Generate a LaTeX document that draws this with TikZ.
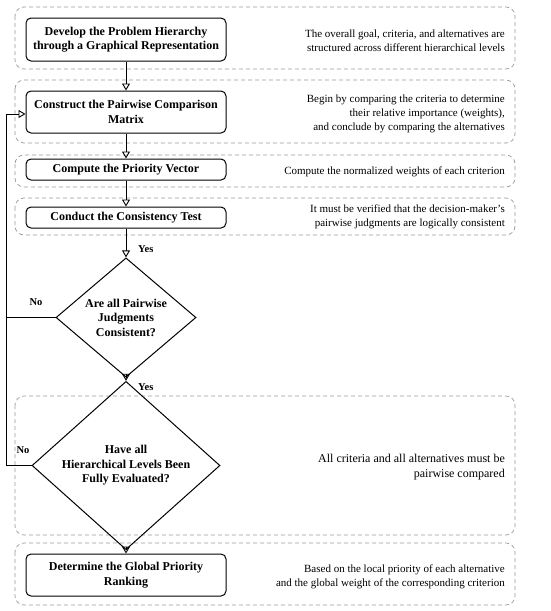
\documentclass[tikz,border=0pt]{standalone}
\usepackage{fontspec}
\setmainfont{Liberation Serif}
\usetikzlibrary{arrows.meta,shapes.geometric}
\begin{document}
\begin{tikzpicture}[x=1pt,y=-1pt,
  stepbox/.style={draw, line width=1pt, rounded corners=5pt, minimum width=200pt, inner sep=2pt, align=center, font=\fontsize{12}{14.5}\selectfont\bfseries},
  decision/.style={draw, line width=1pt, diamond, inner sep=0pt, align=center, font=\fontsize{12}{14.5}\selectfont\bfseries},
  group/.style={draw=gray!80, dashed, dash pattern=on 4pt off 3pt, line width=0.7pt, rounded corners=9pt},
  note/.style={anchor=east, align=right, inner sep=0pt, font=\fontsize{11}{14}\selectfont},
  lbl/.style={inner sep=0pt, font=\fontsize{10.5}{12}\selectfont\bfseries},
  flow/.style={line width=1pt, -{Triangle[open, length=7pt, width=8pt, line width=0.9pt]}},
  line/.style={line width=1pt}]
\useasboundingbox (0,0) rectangle (550,611);
% groups
\draw[group] (15,7) rectangle (515,69);
\draw[group] (15,80) rectangle (515,143);
\draw[group] (15,155) rectangle (515,187);
\draw[group] (15,198) rectangle (515,235);
\draw[group] (15,396) rectangle (515,535);
\draw[group] (15,543) rectangle (515,605);
% boxes
\node[stepbox, minimum height=43pt] (b1) at (126,39.5) {Develop the Problem Hierarchy\\through a Graphical Representation};
\node[stepbox, minimum height=42pt] (b2) at (126,112) {Construct the Pairwise Comparison\\Matrix};
\node[stepbox, minimum height=21pt] (b3) at (126,169.5) {Compute the Priority Vector};
\node[stepbox, minimum height=21pt] (b4) at (126,217.5) {Conduct the Consistency Test};
\node[decision, minimum width=140pt, minimum height=115pt] (d1) at (126,317.5) {Are all Pairwise\\Judgments\\Consistent?};
\node[decision, minimum width=188pt, minimum height=115pt] (d2) at (126,465.5) {Have all\\Hierarchical Levels Been\\Fully Evaluated?};
\node[stepbox, minimum height=42pt] (b6) at (126,575) {Determine the Global Priority\\Ranking};
% notes
\node[note] (n1) at (505,40.5) {The overall goal, criteria, and alternatives are\\structured across different hierarchical levels};
\node[note] (n2) at (505,114) {Begin by comparing the criteria to determine\\their relative importance (weights),\\and conclude by comparing the alternatives};
\node[note] (n3) at (505,172) {Compute the normalized weights of each criterion};
\node[note] (n4) at (505,217) {It must be verified that the decision-maker's\\pairwise judgments are logically consistent};
\node[note, font=\fontsize{12}{15}\selectfont] (n5) at (505,467) {All criteria and all alternatives must be\\pairwise compared};
\node[note] (n6) at (505,577) {Based on the local priority of each alternative\\and the global weight of the corresponding criterion};
% labels
\node[lbl, anchor=west] (y1) at (138,249) {Yes};
\node[lbl, anchor=west] (y2) at (138,387) {Yes};
\node[lbl] (no1) at (36,302) {No};
\node[lbl] (no2) at (23,450) {No};
% connectors
\coordinate (c1) at (6,317.5);
\coordinate (c2) at (6,465.5);
\coordinate (c3) at (6,114);
\draw[flow] (b1) -- (b2);
\draw[flow] (b2) -- (b3);
\draw[flow] (b3) -- (b4);
\draw[flow] (b4) -- (d1);
\draw[flow] (d1) -- (d2);
\draw[flow] (d2) -- (b6);
\draw[line] (d1.west) -- (c1);
\draw[line] (d2.west) -- (c2) -- (c1);
\draw[flow] (c1) -- (c3) -- (b2.west |- c3);
\end{tikzpicture}
\end{document}
